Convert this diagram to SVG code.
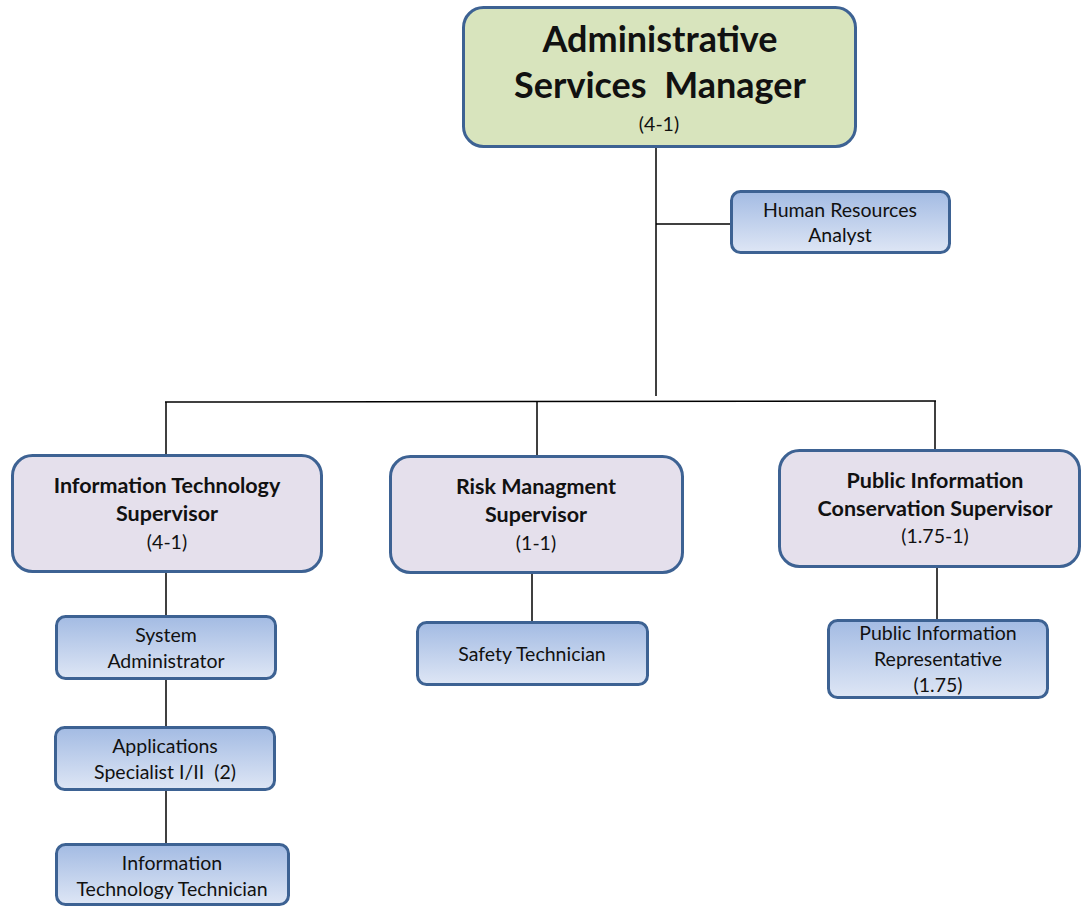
<svg xmlns="http://www.w3.org/2000/svg" width="1081" height="906" viewBox="0 0 1081 906">
<defs>
<linearGradient id="blueGrad" x1="0" y1="0" x2="0" y2="1">
<stop offset="0" stop-color="#A3BBE3"/>
<stop offset="1" stop-color="#DEE6F5"/>
</linearGradient>
<style>
.box { stroke:#3D6293; stroke-width:3; }
.mgr { fill:#D8E4BD; }
.sup { fill:#E5E0EC; }
.staff { fill:url(#blueGrad); }
.t { font-family:Lato, "Liberation Sans", sans-serif; fill:#111; text-anchor:middle; }
.title { font-size:36px; font-weight:bold; }
.bold { font-size:21.5px; font-weight:bold; }
.reg { font-size:19.5px; }
.conn { stroke:#000; stroke-width:1.5; fill:none; }
</style>
</defs>
<rect width="1081" height="906" fill="#fff"/>
<g id="connectors">
<line class="conn" x1="656" y1="147" x2="656" y2="396"/>
<line class="conn" x1="656" y1="224" x2="731" y2="224"/>
<line class="conn" x1="165" y1="402" x2="936" y2="401"/>
<line class="conn" x1="166" y1="402" x2="166" y2="455"/>
<line class="conn" x1="537" y1="402" x2="537" y2="456"/>
<line class="conn" x1="935" y1="401" x2="935" y2="450"/>
<line class="conn" x1="166" y1="572" x2="166" y2="616"/>
<line class="conn" x1="166" y1="679" x2="166" y2="727"/>
<line class="conn" x1="166" y1="790" x2="166" y2="844"/>
<line class="conn" x1="532" y1="573" x2="532" y2="622"/>
<line class="conn" x1="937" y1="567" x2="937" y2="620"/>
</g>
<g id="manager">
<rect class="box mgr" x="463.5" y="7.5" width="392" height="139" rx="20"/>
<text class="t title" x="660" y="52">Administrative</text>
<text class="t title" x="660" y="98" xml:space="preserve">Services  Manager</text>
<text class="t reg" x="659" y="131">(4-1)</text>
</g>
<g id="hr-analyst">
<rect class="box staff" x="731.5" y="191.5" width="218" height="61" rx="9"/>
<text class="t reg" x="840" y="217">Human Resources</text>
<text class="t reg" x="840" y="242">Analyst</text>
</g>
<g id="it-supervisor">
<rect class="box sup" x="12.5" y="455.5" width="309" height="116" rx="20"/>
<text class="t bold" x="167" y="493">Information Technology</text>
<text class="t bold" x="167" y="521">Supervisor</text>
<text class="t reg" x="167" y="549">(4-1)</text>
</g>
<g id="system-admin">
<rect class="box staff" x="56.5" y="616.5" width="219" height="62" rx="9"/>
<text class="t reg" x="166" y="642">System</text>
<text class="t reg" x="166" y="668">Administrator</text>
</g>
<g id="apps-specialist">
<rect class="box staff" x="55.5" y="727.5" width="219" height="62" rx="9"/>
<text class="t reg" x="165" y="753">Applications</text>
<text class="t reg" x="165" y="779" xml:space="preserve">Specialist I/II  (2)</text>
</g>
<g id="it-technician">
<rect class="box staff" x="56.5" y="844.5" width="232" height="60" rx="9"/>
<text class="t reg" x="172" y="870">Information</text>
<text class="t reg" x="172" y="896">Technology Technician</text>
</g>
<g id="risk-supervisor">
<rect class="box sup" x="390.5" y="456.5" width="292" height="116" rx="20"/>
<text class="t bold" x="536" y="494">Risk Managment</text>
<text class="t bold" x="536" y="522">Supervisor</text>
<text class="t reg" x="536" y="550">(1-1)</text>
</g>
<g id="safety-technician">
<rect class="box staff" x="417.5" y="622.5" width="230" height="62" rx="9"/>
<text class="t reg" x="532" y="661">Safety Technician</text>
</g>
<g id="public-info-supervisor">
<rect class="box sup" x="779.5" y="450.5" width="300" height="116" rx="20"/>
<text class="t bold" x="935" y="488">Public Information</text>
<text class="t bold" x="935" y="516">Conservation Supervisor</text>
<text class="t reg" x="935" y="543">(1.75-1)</text>
</g>
<g id="public-info-rep">
<rect class="box staff" x="828.5" y="620.5" width="219" height="77" rx="9"/>
<text class="t reg" x="938" y="640">Public Information</text>
<text class="t reg" x="938" y="666">Representative</text>
<text class="t reg" x="938" y="692">(1.75)</text>
</g>
</svg>
